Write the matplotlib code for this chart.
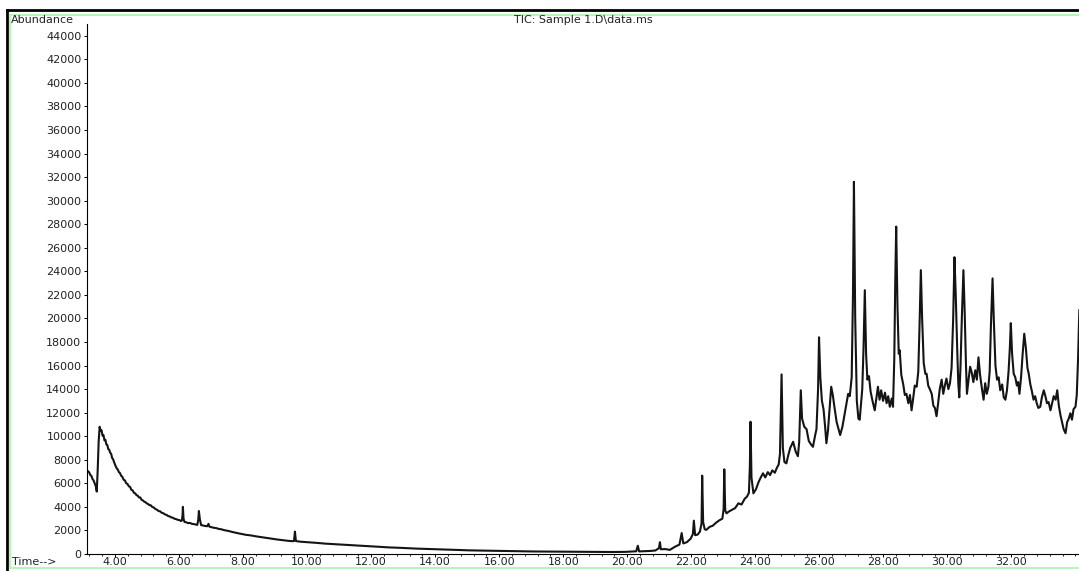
import numpy as np
import matplotlib.pyplot as plt
from matplotlib.lines import Line2D
from matplotlib.ticker import FixedLocator, FormatStrFormatter

# TIC trace, retention time (min) and abundance
tiempo = [
    3.12, 3.16, 3.19, 3.23, 3.26, 3.30, 3.33, 3.37, 3.40, 3.43, 3.46, 3.49, 3.52, 3.55,
    3.58, 3.61, 3.64, 3.67, 3.70, 3.73, 3.76, 3.79, 3.82, 3.85, 3.88, 3.91, 3.94, 3.97,
    4.00, 4.03, 4.06, 4.09, 4.12, 4.15, 4.19, 4.23, 4.27, 4.31, 4.35, 4.39, 4.43, 4.47,
    4.51, 4.55, 4.59, 4.63, 4.67, 4.71, 4.75, 4.79, 4.83, 4.87, 4.91, 4.95, 4.99, 5.03,
    5.07, 5.11, 5.16, 5.21, 5.26, 5.31, 5.36, 5.41, 5.46, 5.51, 5.56, 5.61, 5.66, 5.71,
    5.76, 5.81, 5.86, 5.91, 5.96, 6.01, 6.06, 6.09, 6.11, 6.12, 6.14, 6.17, 6.22, 6.28,
    6.34, 6.40, 6.46, 6.52, 6.57, 6.60, 6.62, 6.65, 6.69, 6.75, 6.81, 6.88, 6.92, 6.95,
    7.01, 7.08, 7.16, 7.24, 7.32, 7.40, 7.48, 7.58, 7.68, 7.78, 7.88, 7.98, 8.08, 8.18,
    8.28, 8.40, 8.52, 8.65, 8.77, 8.92, 9.07, 9.22, 9.37, 9.52, 9.59, 9.62, 9.65, 9.77,
    9.92, 10.07, 10.32, 10.57, 10.81, 11.06, 11.36, 11.66, 11.96, 12.26, 12.55, 12.85,
    13.15, 13.45, 13.75, 14.05, 14.40, 14.75, 15.05, 15.45, 15.84, 16.24, 16.64, 17.04,
    17.54, 17.94, 18.34, 18.73, 19.13, 19.53, 19.93, 20.13, 20.28, 20.33, 20.37, 20.53,
    20.73, 20.88, 20.99, 21.02, 21.05, 21.18, 21.33, 21.48, 21.63, 21.70, 21.75, 21.86,
    21.98, 22.05, 22.08, 22.12, 22.20, 22.27, 22.32, 22.34, 22.37, 22.42, 22.47, 22.57,
    22.67, 22.77, 22.87, 22.97, 23.01, 23.03, 23.06, 23.10, 23.17, 23.27, 23.37, 23.47,
    23.57, 23.67, 23.74, 23.80, 23.83, 23.85, 23.88, 23.94, 24.02, 24.10, 24.17, 24.24,
    24.31, 24.39, 24.46, 24.53, 24.61, 24.67, 24.73, 24.77, 24.82, 24.86, 24.91, 24.97,
    25.03, 25.09, 25.18, 25.26, 25.33, 25.37, 25.42, 25.46, 25.53, 25.60, 25.67, 25.74,
    25.80, 25.87, 25.91, 25.96, 25.99, 26.03, 26.08, 26.13, 26.18, 26.22, 26.27, 26.33,
    26.37, 26.42, 26.48, 26.54, 26.60, 26.65, 26.72, 26.79, 26.85, 26.90, 26.95, 27.01,
    27.05, 27.08, 27.12, 27.17, 27.22, 27.26, 27.31, 27.34, 27.38, 27.42, 27.46, 27.50,
    27.55, 27.60, 27.66, 27.73, 27.78, 27.83, 27.88, 27.93, 27.99, 28.05, 28.10, 28.15,
    28.20, 28.26, 28.30, 28.34, 28.37, 28.40, 28.44, 28.48, 28.51, 28.56, 28.62, 28.67,
    28.72, 28.78, 28.83, 28.88, 28.93, 28.98, 29.04, 29.09, 29.13, 29.17, 29.21, 29.26,
    29.31, 29.35, 29.40, 29.45, 29.51, 29.56, 29.61, 29.66, 29.71, 29.76, 29.82, 29.87,
    29.92, 29.97, 30.03, 30.08, 30.13, 30.18, 30.22, 30.26, 30.31, 30.34, 30.37, 30.41,
    30.45, 30.50, 30.54, 30.58, 30.61, 30.66, 30.71, 30.76, 30.81, 30.87, 30.92, 30.97,
    31.02, 31.08, 31.13, 31.18, 31.23, 31.28, 31.32, 31.36, 31.41, 31.45, 31.50, 31.55,
    31.60, 31.65, 31.71, 31.76, 31.81, 31.86, 31.91, 31.95, 31.98, 32.02, 32.07, 32.12,
    32.17, 32.21, 32.25, 32.30, 32.35, 32.40, 32.45, 32.50, 32.54, 32.59, 32.64, 32.69,
    32.74, 32.79, 32.84, 32.90, 32.95, 33.01, 33.06, 33.11, 33.16, 33.22, 33.27, 33.32,
    33.38, 33.43, 33.48, 33.53, 33.58, 33.63, 33.69, 33.74, 33.79, 33.84, 33.89, 33.94,
    34.00, 34.04, 34.08, 34.12,
]
abundancia = [
    7150, 7000, 6950, 6700, 6650, 6350, 6250, 5950, 5750, 5300, 7200, 9600, 10800, 10450,
    10500, 10050, 10100, 9650, 9700, 9300, 9250, 8900, 8850, 8600, 8500, 8150, 8050, 7800,
    7600, 7400, 7250, 7150, 6950, 6900, 6650, 6550, 6300, 6250, 6000, 5950, 5750, 5700,
    5450, 5400, 5200, 5150, 5000, 4950, 4800, 4800, 4600, 4550, 4450, 4400, 4300, 4250,
    4150, 4150, 4000, 3950, 3820, 3760, 3650, 3620, 3500, 3460, 3360, 3320, 3220, 3190,
    3100, 3080, 2990, 2960, 2900, 2880, 2800, 2850, 3300, 4000, 3000, 2720, 2700, 2620,
    2640, 2560, 2540, 2500, 2470, 2900, 3650, 2950, 2450, 2420, 2380, 2360, 2560, 2320,
    2280, 2230, 2200, 2130, 2100, 2030, 1990, 1930, 1860, 1800, 1740, 1690, 1630, 1600,
    1560, 1500, 1450, 1390, 1340, 1280, 1230, 1180, 1130, 1090, 1100, 1900, 1100, 1050,
    1020, 990, 940, 880, 840, 800, 750, 705, 660, 610, 560, 530,
    490, 455, 430, 400, 370, 340, 310, 290, 265, 245, 230, 215,
    205, 200, 195, 185, 180, 170, 180, 210, 230, 700, 220, 240,
    260, 300, 500, 1000, 400, 420, 350, 600, 800, 1780, 900, 1000,
    1300, 1700, 2830, 1600, 1650, 1900, 2600, 6650, 2700, 2100, 2050, 2300,
    2400, 2650, 2850, 3000, 3800, 7190, 3700, 3450, 3600, 3750, 3900, 4300,
    4200, 4700, 4870, 5200, 7500, 11230, 6500, 5150, 5500, 6100, 6500, 6850,
    6500, 6950, 6700, 7100, 6900, 7300, 7600, 8500, 15250, 9000, 7800, 7700,
    8400, 9000, 9530, 8700, 8300, 9500, 13900, 11500, 10800, 10600, 9600, 9300,
    9100, 10100, 10600, 14000, 18400, 15000, 13000, 12300, 10800, 9400, 10500, 12700,
    14200, 13500, 12300, 11200, 10600, 10100, 10800, 11900, 12800, 13600, 13400, 15000,
    22000, 31600, 20000, 13000, 11500, 11400, 13000, 14000, 17500, 22400, 17000, 14800,
    15100, 13800, 13000, 12200, 13200, 14200, 13100, 13900, 13000, 13700, 12800, 13400,
    12500, 13200, 12500, 16500, 23000, 27800, 21000, 17000, 17300, 15200, 14400, 13500,
    13600, 12800, 13500, 12200, 13200, 14300, 14200, 15500, 19500, 24100, 20000, 16200,
    15300, 15300, 14300, 14000, 13600, 12600, 12400, 11700, 12800, 14000, 14800, 13600,
    14300, 14900, 14000, 14500, 15800, 20000, 25200, 22000, 17000, 14500, 13300, 16000,
    20000, 24100, 20500, 16000, 13600, 14800, 15900, 15400, 14600, 15600, 14800, 16700,
    15200, 14000, 13100, 14500, 13600, 14200, 15500, 19500, 23400, 19800, 16000, 14800,
    15000, 13900, 14400, 13300, 13100, 13900, 15500, 17500, 19600, 17000, 15300, 15000,
    14300, 14600, 13600, 15000, 17000, 18700, 17500, 15800, 15300, 14400, 13800, 13100,
    13400, 12800, 12400, 12500, 13300, 13900, 13400, 12800, 12900, 12200, 12800, 13400,
    13100, 13900, 12600, 11800, 11200, 10600, 10250, 11200, 11500, 11950, 11400, 12300,
    12500, 13500, 16500, 20700,
]

ticks_tiempo = [4, 6, 8, 10, 12, 14, 16, 18, 20, 22, 24, 26, 28, 30, 32]
ticks_abund = list(range(0, 44001, 2000))

W, H = 1079, 571
fig = plt.figure(figsize=(W / 100, H / 100), dpi=100)
ax = fig.add_axes([87 / W, 17 / H, (W - 87) / W, 530 / H])

ax.plot(tiempo, abundancia, color="#141414", linewidth=1.5)

ax.set_xlim(3.125, 34.11)
ax.set_ylim(0, 45000)
ax.spines["top"].set_visible(False)
ax.spines["right"].set_visible(False)
ax.spines["left"].set_linewidth(0.8)
ax.spines["bottom"].set_linewidth(0.8)

ax.xaxis.set_major_locator(FixedLocator(ticks_tiempo))
ax.xaxis.set_minor_locator(FixedLocator(np.arange(3.2, 34.05, 0.4)))
ax.xaxis.set_major_formatter(FormatStrFormatter("%.2f"))
ax.yaxis.set_major_locator(FixedLocator(ticks_abund))
ax.yaxis.set_major_formatter(FormatStrFormatter("%d"))
ax.tick_params(axis="x", which="major", length=2.5, width=0.7, pad=0,
               labelsize=8, labelcolor="#222222")
ax.tick_params(axis="x", which="minor", length=1.6, width=0.6)
ax.tick_params(axis="y", length=2.5, width=0.7, pad=1.5,
               labelsize=8, labelcolor="#222222")

fig.text(11 / W, 1 - 20 / H, "Abundance", fontsize=8, color="#222222",
         ha="left", va="center")
fig.text(583 / W, 1 - 20 / H, "TIC: Sample 1.D\\data.ms", fontsize=8,
         color="#222222", ha="center", va="center")
fig.text(12 / W, 1 - 562 / H, "Time-->", fontsize=8, color="#222222",
         ha="left", va="center")

# marco de la ventana: negro arriba/izquierda, verde claro adentro
marco = [
    ([7 / W, 1], [1 - 10 / H, 1 - 10 / H], "black", 2.0),
    ([7 / W, 7 / W], [0, 1 - 10 / H], "black", 2.0),
    ([10 / W, 1], [1 - 15 / H, 1 - 15 / H], "#b8f5b8", 1.5),
    ([10 / W, 10 / W], [3 / H, 1 - 15 / H], "#b8f5b8", 1.5),
    ([10 / W, 1], [3 / H, 3 / H], "#b8f5b8", 1.5),
]
for xs, ys, col, lw in marco:
    fig.add_artist(Line2D(xs, ys, color=col, linewidth=lw, transform=fig.transFigure))

fig.savefig("out.png", dpi=100)
